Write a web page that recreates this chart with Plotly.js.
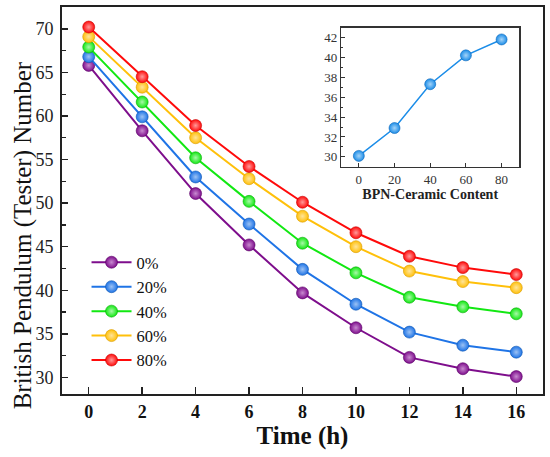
<!DOCTYPE html>
<html>
<head>
<meta charset="utf-8">
<script src="https://cdn.plot.ly/plotly-3.0.1.min.js"></script>
<style>html,body{margin:0;padding:0;background:#fff;}#chart{width:550px;height:457px;}</style>
</head>
<body>
<div id="chart"></div>
<script>
// Data
var timeHours = [0, 2, 4, 6, 8, 10, 12, 14, 16];
var seriesNames = ['0%', '20%', '40%', '60%', '80%'];
var bpn0 = [65.8, 58.3, 51.1, 45.2, 39.7, 35.7, 32.3, 31.0, 30.1];
var bpn20 = [66.8, 59.9, 53.0, 47.6, 42.4, 38.4, 35.2, 33.7, 32.9];
var bpn40 = [67.9, 61.6, 55.2, 50.2, 45.4, 42.0, 39.2, 38.1, 37.3];
var bpn60 = [69.1, 63.3, 57.5, 52.8, 48.5, 45.0, 42.2, 41.0, 40.3];
var bpn80 = [70.2, 64.5, 58.9, 54.2, 50.1, 46.6, 43.9, 42.6, 41.8];
var ceramicContent = [0, 20, 40, 60, 80];
var bpnAt16h = [30.1, 32.9, 37.3, 40.2, 41.8];

var seriesValues = [bpn0, bpn20, bpn40, bpn60, bpn80];
var colors = ['#7E0E8C', '#1F74E6', '#12E812', '#FFC00A', '#FF0A0A'];
var highlight = ['#C88AD0', '#9CC2F4', '#A8F8A8', '#FFE49A', '#FF9A9A'];
var edgeColors = ['#5A0066', '#0E55B0', '#0AAA0A', '#D89A00', '#C80000'];

var serif = 'Liberation Serif';
var traces = [];
for (var i = 0; i < seriesValues.length; i++) {
  traces.push({
    type: 'scatter', mode: 'lines+markers',
    x: timeHours, y: seriesValues[i], name: seriesNames[i],
    line: {color: colors[i], width: 2},
    marker: {size: 12, color: colors[i], line: {color: edgeColors[i], width: 0.6},
             gradient: {type: 'radial', color: highlight[i]}},
    xaxis: 'x', yaxis: 'y'
  });
}
traces.push({
  type: 'scatter', mode: 'lines+markers',
  x: ceramicContent, y: bpnAt16h, showlegend: false,
  line: {color: '#1C8DE8', width: 1.5},
  marker: {size: 11, color: '#1C8DE8', line: {color: '#0B66B8', width: 0.6},
           gradient: {type: 'radial', color: '#A6D4F8'}},
  xaxis: 'x2', yaxis: 'y2'
});

var layout = {
  width: 550, height: 457,
  margin: {l: 62, r: 7, t: 7, b: 63},
  paper_bgcolor: '#fff', plot_bgcolor: '#fff',
  font: {family: serif, color: '#111'},
  showlegend: true,
  legend: {x: 0.051, y: 0.385, xanchor: 'left', yanchor: 'top',
           bgcolor: 'rgba(0,0,0,0)', font: {family: serif, size: 16.5, color: '#111'},
           tracegroupgap: 0, itemwidth: 40},
  xaxis: {
    domain: [0, 1], range: [-1, 17], tickvals: timeHours, ticktext: timeHours.map(String),
    ticks: 'inside', ticklen: 7, tickwidth: 1.5, tickcolor: '#222',
    showline: true, linewidth: 2, linecolor: '#222', mirror: true,
    showgrid: false, zeroline: false,
    tickfont: {family: serif, size: 18, weight: 'bold', color: '#111'},
    title: {text: 'Time (h)', font: {family: serif, size: 25, weight: 'bold', color: '#111'}, standoff: 6}
  },
  yaxis: {
    domain: [0, 1], range: [28.1, 72.5], dtick: 5, tick0: 30,
    ticks: 'inside', ticklen: 6, tickwidth: 1.5, tickcolor: '#222',
    minor: {dtick: 2.5, ticks: 'inside', ticklen: 3.5, tickwidth: 1.2, tickcolor: '#222'},
    showline: true, linewidth: 2, linecolor: '#222', mirror: true,
    showgrid: false, zeroline: false, ticklabelstandoff: 3,
    tickfont: {family: serif, size: 18, color: '#222'}
  },
  xaxis2: {
    domain: [0.580, 0.951], anchor: 'y2', range: [-10, 90], dtick: 20, tick0: 0,
    ticks: 'inside', ticklen: 4, tickwidth: 1, tickcolor: '#333',
    showline: true, linewidth: 1.2, linecolor: '#333', mirror: true,
    showgrid: false, zeroline: false,
    tickfont: {family: serif, size: 13, color: '#333'},
    title: {text: 'BPN-Ceramic Content', font: {family: serif, size: 14, weight: 'bold', color: '#222'}, standoff: 2}
  },
  yaxis2: {
    domain: [0.587, 0.947], anchor: 'x2', range: [29, 43], dtick: 2, tick0: 30,
    ticks: 'inside', ticklen: 4, tickwidth: 1, tickcolor: '#333',
    minor: {dtick: 1, ticks: 'inside', ticklen: 2.5, tickwidth: 1, tickcolor: '#333'},
    showline: true, linewidth: 1.2, linecolor: '#333', mirror: true,
    showgrid: false, zeroline: false,
    tickfont: {family: serif, size: 13, color: '#333'}
  },
  annotations: [{
    text: 'British Pendulum (Tester) Number', textangle: -90,
    xref: 'paper', yref: 'paper', x: 0, xshift: -39, xanchor: 'center',
    y: 0.41, yanchor: 'middle', showarrow: false,
    font: {family: serif, size: 25, color: '#111'}
  }],
  shapes: [{type: 'rect', xref: 'x2 domain', yref: 'y2 domain', x0: 0, x1: 1, y0: 0, y1: 1,
            fillcolor: '#fff', line: {width: 0}, layer: 'below'}]
};

Plotly.newPlot('chart', traces, layout, {displayModeBar: false, staticPlot: true});
</script>
</body>
</html>
